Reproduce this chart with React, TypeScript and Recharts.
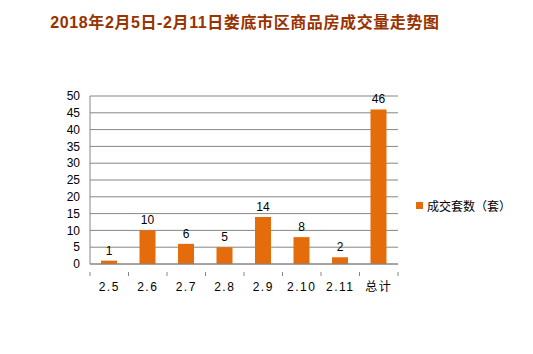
import { Bar, BarChart, CartesianGrid, LabelList, XAxis, YAxis } from 'recharts'

const days = ['2.5', '2.6', '2.7', '2.8', '2.9', '2.10', '2.11', '总计']
const deals = [1, 10, 6, 5, 14, 8, 2, 46]
const yTicks = [0, 5, 10, 15, 20, 25, 30, 35, 40, 45, 50]

const data = days.map((day, i) => ({ day, deals: deals[i] }))

const font = '"Liberation Sans", "Noto Sans CJK SC", sans-serif'
const gridColor = '#868686'
const barColor = '#e46c0a'

function DayTick(props: any) {
  const { x, y, payload, index, width } = props
  const step = width / days.length
  return (
    <g>
      <line x1={x - step / 2} x2={x - step / 2} y1={y} y2={y + 4} stroke={gridColor} />
      {index === days.length - 1 && (
        <line x1={x + step / 2} x2={x + step / 2} y1={y} y2={y + 4} stroke={gridColor} />
      )}
      <text x={x} y={y + 19} textAnchor='middle' fontSize={12} fill='#000' fontFamily={font} letterSpacing={1.5}>
        {payload.value}
      </text>
    </g>
  )
}

export default function App() {
  return (
    <div style={{ position: 'absolute', left: 0, top: 0, width: 533, height: 354, background: '#fff' }}>
      <div
        style={{
          position: 'absolute',
          left: 0,
          width: 490,
          top: 9,
          textAlign: 'center',
          fontFamily: font,
          fontWeight: 'bold',
          fontSize: 16,
          letterSpacing: 0.6,
          color: '#993300',
        }}
      >
        2018年2月5日-2月11日娄底市区商品房成交量走势图
      </div>
      <BarChart
        width={533}
        height={354}
        data={data}
        margin={{ top: 96, right: 135, left: 0, bottom: 60 }}
      >
        <CartesianGrid vertical={false} stroke={gridColor} />
        <XAxis
          dataKey='day'
          height={30}
          axisLine={{ stroke: gridColor }}
          tickLine={false}
          interval={0}
          tick={<DayTick />}
        />
        <YAxis
          width={90}
          domain={[0, 50]}
          ticks={yTicks}
          interval={0}
          axisLine={{ stroke: gridColor }}
          tickLine={false}
          tickSize={0}
          tickMargin={10}
          tick={{ fontSize: 12, fill: '#000', fontFamily: font }}
        />
        <Bar dataKey='deals' fill={barColor} barSize={16} isAnimationActive={false}>
          <LabelList dataKey='deals' position='top' fill='#000' fontSize={12} fontFamily={font} offset={6} />
        </Bar>
      </BarChart>
      <div
        style={{
          position: 'absolute',
          left: 416,
          top: 197,
          display: 'flex',
          alignItems: 'center',
          fontSize: 12,
          fontFamily: font,
          color: '#000',
        }}
      >
        <span style={{ width: 7, height: 7, background: barColor, marginRight: 4, display: 'inline-block' }} />
        成交套数（套）
      </div>
    </div>
  )
}
